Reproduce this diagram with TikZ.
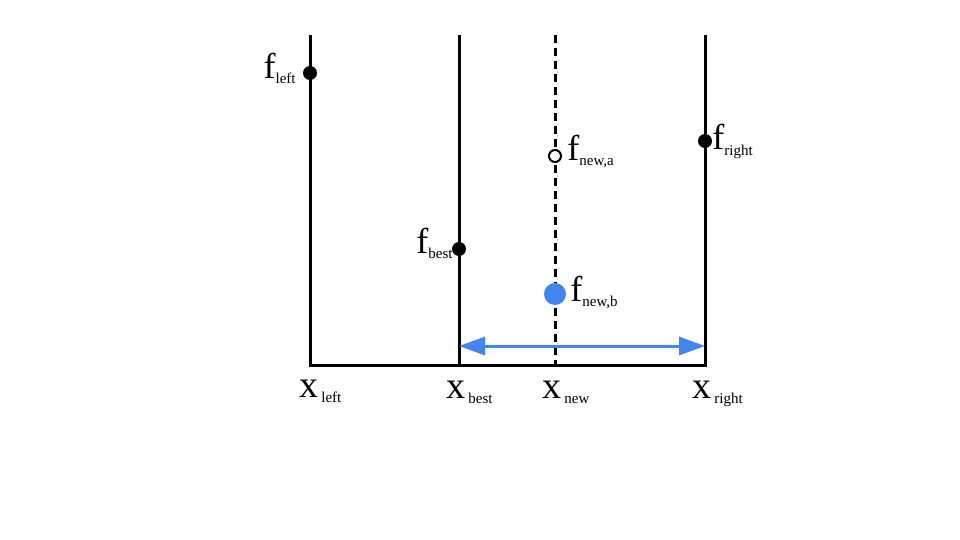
\documentclass[tikz,border=0pt]{standalone}
\usepackage{fontspec}
\setmainfont{Liberation Serif}
\usetikzlibrary{arrows.meta, positioning}
\definecolor{arrowblue}{RGB}{66, 133, 237}
\newcommand{\fsub}[2]{#1\raisebox{-2.5pt}{\fontsize{7.5}{7.5}\selectfont #2}}

\begin{document}
\begin{tikzpicture}[x=0.5pt, y=-0.5pt,
    axis/.style={line width=1.5pt},
    dot/.style={circle, fill=black, inner sep=0pt, minimum size=7pt},
    hole/.style={circle, draw=black, fill=white, line width=1pt,
        inner sep=0pt, minimum size=6pt},
    bluedot/.style={circle, fill=arrowblue, inner sep=0pt, minimum size=11pt},
    flab/.style={font=\fontsize{18}{18}\selectfont, inner sep=0pt},
    xlab/.style={font=\fontsize{19}{19}\selectfont, inner sep=0pt, anchor=base west}
]
    \useasboundingbox (0,0) rectangle (960,540);

    % frame
    \coordinate (lt) at (310,35);
    \coordinate (lb) at (310,365);
    \coordinate (bt) at (459,35);
    \coordinate (bb) at (459,365);
    \coordinate (nt) at (555,35);
    \coordinate (nb) at (555,365);
    \coordinate (rt) at (705,35);
    \coordinate (rb) at (705,365);
    \draw[axis] (lt) -- (lb) -- (rb) -- (rt);
    \draw[axis] (bt) -- (bb);
    \draw[axis, dash pattern=on 4pt off 2.5pt] (nt) -- (nb);

    % interval arrow
    \coordinate (ab) at (459,346);
    \coordinate (ar) at (705,346);
    \draw[line width=1.5pt, arrowblue,
        {Triangle[length=13pt, width=9pt]}-{Triangle[length=13pt, width=9pt]}] (ab) -- (ar);

    % points
    \node[dot] (fleft) at (310,73) {};
    \node[dot] (fbest) at (459,249) {};
    \node[hole] (fnewa) at (555,156) {};
    \node[dot] (fright) at (705,141) {};
    \node[bluedot] (fnewb) at (555,294) {};

    \node[flab, anchor=base east] (lleft) at (296,79) {\fsub{f}{left}};
    \node[flab, anchor=base east] (lbest) at (453,254) {\fsub{f}{best}};
    \node[flab, anchor=base west] (lnewa) at (567,161) {\fsub{f}{new,a}};
    \node[flab, anchor=base west] (lright) at (712,150) {\fsub{f}{right}};
    \node[flab, anchor=base west] (lnewb) at (570,301) {\fsub{f}{new,b}};

    % axis labels
    \node[xlab] (xleft) at (299,397) {\fsub{x\kern1.5pt}{left}};
    \node[xlab] (xbest) at (446,398) {\fsub{x\kern1.5pt}{best}};
    \node[xlab] (xnew) at (542,398) {\fsub{x\kern1.5pt}{new}};
    \node[xlab] (xright) at (692,398) {\fsub{x\kern1.5pt}{right}};
\end{tikzpicture}
\end{document}
